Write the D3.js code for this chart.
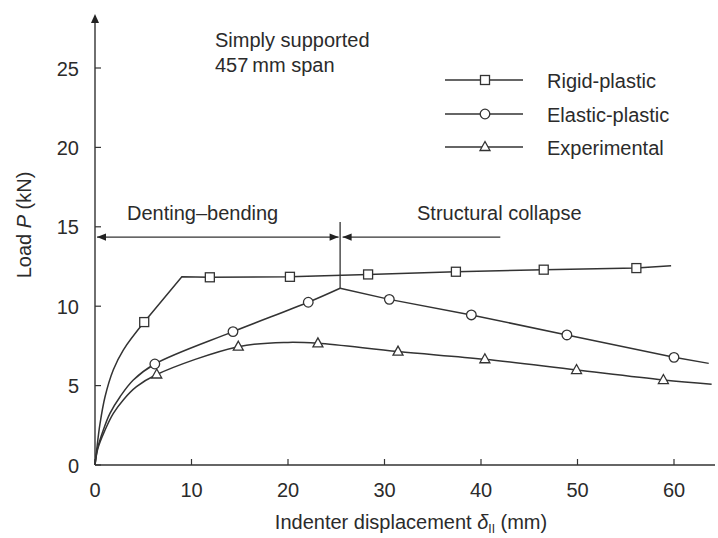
<!DOCTYPE html>
<html>
<head>
<meta charset="utf-8">
<script src="https://cdn.jsdelivr.net/npm/d3@7"></script>
<style>
  html, body { margin: 0; padding: 0; background: #fff; }
  svg { display: block; }
  text { font-family: "Liberation Sans", Arial, Helvetica, sans-serif; fill: #2b2b2b; }
</style>
</head>
<body>
<svg id="chart" width="718" height="538"></svg>
<script>
// Load–displacement response of a simply supported tube under indentation
const xTicks = [0, 10, 20, 30, 40, 50, 60];
const yTicks = [0, 5, 10, 15, 20, 25];

// Rigid-plastic: curved rise, then straight segments
const rigidCurve = [[0, 0], [0.17, 0.94], [0.52, 2.6], [1.04, 4.3], [1.9, 6.0], [2.93, 7.24], [5.1, 9.0]];
const rigidLinear = [[5.1, 9.0], [9.0, 11.85], [11.9, 11.82], [20.2, 11.85], [28.3, 12.0],
                     [37.4, 12.17], [46.5, 12.3], [56.1, 12.4], [59.7, 12.55]];
const rigidMarks = [[5.1, 9.0], [11.9, 11.82], [20.2, 11.85], [28.3, 12.0],
                    [37.4, 12.17], [46.5, 12.3], [56.1, 12.4]];

// Elastic-plastic: curved rise to the peak, then straight decline
const elasticCurve = [[0, 0], [0.25, 1.0], [0.86, 2.2], [1.55, 3.25], [2.6, 4.3], [3.97, 5.35],
                      [6.2, 6.36], [14.3, 8.4], [22.1, 10.25], [25.4, 11.13]];
const elasticLinear = [[25.4, 11.13], [30.5, 10.43], [39.0, 9.45], [48.9, 8.19],
                       [60.0, 6.78], [63.6, 6.4]];
const elasticMarks = [[6.2, 6.36], [14.3, 8.4], [22.1, 10.25], [30.5, 10.43],
                      [39.0, 9.45], [48.9, 8.19], [60.0, 6.78]];

// Experimental: smooth throughout
const expCurve = [[0, 0], [0.3, 1.05], [1.04, 2.2], [1.9, 3.25], [2.93, 4.1], [4.3, 4.93],
                  [6.4, 5.7], [14.85, 7.45], [20.0, 7.72], [23.1, 7.66], [31.4, 7.14],
                  [40.4, 6.66], [49.9, 5.98], [58.9, 5.35], [63.9, 5.08]];
const expMarks = [[6.4, 5.7], [14.85, 7.45], [23.1, 7.66], [31.4, 7.14],
                  [40.4, 6.66], [49.9, 5.98], [58.9, 5.35]];

// Regime annotation
const regimeBoundary = 25.4;
const regimeArrowLoad = 14.35;
const regimeLineTop = 15.3;
const collapseArrowEnd = 42;
const regimeLabels = ["Denting\u2013bending", "Structural collapse"];

const legendNames = ["Rigid-plastic", "Elastic-plastic", "Experimental"];
const legendShapes = ["square", "circle", "triangle"];

const ink = "#333";
const fs = 20;
const svg = d3.select("#chart");

const x = d3.scaleLinear().domain([0, 60]).range([95, 674]);
const y = d3.scaleLinear().domain([0, 25]).range([465, 68]);
const xEnd = 715, yTop = 14;

const defs = svg.append("defs");
defs.append("marker").attr("id", "head").attr("viewBox", "0 0 10 10")
  .attr("refX", 10).attr("refY", 5).attr("markerWidth", 11).attr("markerHeight", 9)
  .attr("markerUnits", "userSpaceOnUse").attr("orient", "auto-start-reverse")
  .append("path").attr("d", "M0,1 L10,5 L0,9 Z").attr("fill", "#222");

// Axes
const g = svg.append("g");
g.append("line").attr("x1", x(0)).attr("x2", xEnd).attr("y1", y(0)).attr("y2", y(0))
  .attr("stroke", ink).attr("stroke-width", 1.4);
g.append("line").attr("x1", x(0)).attr("x2", x(0)).attr("y1", y(0)).attr("y2", yTop + 2)
  .attr("stroke", ink).attr("stroke-width", 1.4);
g.append("path")
  .attr("d", `M${x(0) - 4},${yTop + 9} L${x(0)},${yTop} L${x(0) + 4},${yTop + 9} Z`)
  .attr("fill", "#222");

g.selectAll(".xt").data(xTicks).join("line")
  .attr("x1", d => x(d)).attr("x2", d => x(d)).attr("y1", y(0)).attr("y2", y(0) - 6)
  .attr("stroke", ink).attr("stroke-width", 1.2);
g.selectAll(".xl").data(xTicks).join("text")
  .attr("x", d => x(d)).attr("y", y(0) + 32).attr("text-anchor", "middle")
  .attr("font-size", fs).text(d => d);

g.selectAll(".yt").data(yTicks).join("line")
  .attr("x1", x(0)).attr("x2", x(0) + 6).attr("y1", d => y(d)).attr("y2", d => y(d))
  .attr("stroke", ink).attr("stroke-width", 1.2);
g.selectAll(".yl").data(yTicks).join("text")
  .attr("x", 79).attr("y", d => y(d) + 7.5).attr("text-anchor", "end")
  .attr("font-size", fs).text(d => d);

// Axis titles
const yTitle = svg.append("text").attr("transform", "translate(31,225) rotate(-90)")
  .attr("text-anchor", "middle").attr("font-size", fs);
yTitle.append("tspan").text("Load ");
yTitle.append("tspan").attr("font-style", "italic").text("P");
yTitle.append("tspan").text(" (kN)");

const xTitle = svg.append("text").attr("x", 411).attr("y", 529)
  .attr("text-anchor", "middle").attr("font-size", fs);
xTitle.append("tspan").text("Indenter displacement ");
xTitle.append("tspan").attr("font-style", "italic").text("\u03b4");
xTitle.append("tspan").attr("font-size", 12).attr("dy", 4).text("II");
xTitle.append("tspan").attr("dy", -4).text(" (mm)");

// Series
const curved = d3.line().x(d => x(d[0])).y(d => y(d[1])).curve(d3.curveCatmullRom.alpha(0.5));
const straight = d3.line().x(d => x(d[0])).y(d => y(d[1]));
const lines = svg.append("g").attr("fill", "none").attr("stroke", ink).attr("stroke-width", 1.5);
lines.append("path").attr("d", curved(rigidCurve));
lines.append("path").attr("d", straight(rigidLinear));
lines.append("path").attr("d", curved(elasticCurve));
lines.append("path").attr("d", straight(elasticLinear));
lines.append("path").attr("d", curved(expCurve));

// Regime boundary and arrows
const ann = svg.append("g").attr("stroke", ink).attr("stroke-width", 1.3);
ann.append("line").attr("x1", x(regimeBoundary)).attr("x2", x(regimeBoundary))
  .attr("y1", y(regimeLineTop)).attr("y2", y(11.13));
ann.append("line").attr("x1", x(0) + 2).attr("x2", x(regimeBoundary) - 1.5)
  .attr("y1", y(regimeArrowLoad)).attr("y2", y(regimeArrowLoad))
  .attr("marker-start", "url(#head)").attr("marker-end", "url(#head)");
ann.append("line").attr("x1", x(regimeBoundary) + 2.5).attr("x2", x(collapseArrowEnd))
  .attr("y1", y(regimeArrowLoad)).attr("y2", y(regimeArrowLoad))
  .attr("marker-start", "url(#head)");

svg.append("text").attr("x", 127).attr("y", 220).attr("font-size", fs).text(regimeLabels[0]);
svg.append("text").attr("x", 417).attr("y", 220).attr("font-size", fs).text(regimeLabels[1]);

svg.append("text").attr("x", 215).attr("y", 47).attr("font-size", fs).text("Simply supported");
svg.append("text").attr("x", 215).attr("y", 72).attr("font-size", fs).text("457\u2009mm span");

// Marker shapes
function drawMarker(sel, shape) {
  if (shape === "square") {
    sel.append("rect").attr("x", -4.5).attr("y", -4.5).attr("width", 9).attr("height", 9);
  } else if (shape === "circle") {
    sel.append("circle").attr("r", 4.8);
  } else {
    sel.append("path").attr("d", "M0,-5.5 L5,3.5 L-5,3.5 Z");
  }
}
const markGroups = [[rigidMarks, "square"], [elasticMarks, "circle"], [expMarks, "triangle"]];
markGroups.forEach(([pts, shape]) => {
  svg.append("g").attr("fill", "#fff").attr("stroke", ink).attr("stroke-width", 1.3)
    .selectAll("g").data(pts).join("g")
    .attr("transform", d => `translate(${x(d[0])},${y(d[1])})`)
    .each(function () { drawMarker(d3.select(this), shape); });
});

// Legend
const legendRows = [80, 114, 147];
legendNames.forEach((name, i) => {
  const lg = svg.append("g").attr("transform", `translate(0,${legendRows[i]})`);
  lg.append("line").attr("x1", 445).attr("x2", 523).attr("y1", 0).attr("y2", 0)
    .attr("stroke", ink).attr("stroke-width", 1.3);
  const m = lg.append("g").attr("transform", "translate(485,0)")
    .attr("fill", "#fff").attr("stroke", ink).attr("stroke-width", 1.3);
  drawMarker(m, legendShapes[i]);
  lg.append("text").attr("x", 547).attr("y", 7.5).attr("font-size", fs).text(name);
});
</script>
</body>
</html>
